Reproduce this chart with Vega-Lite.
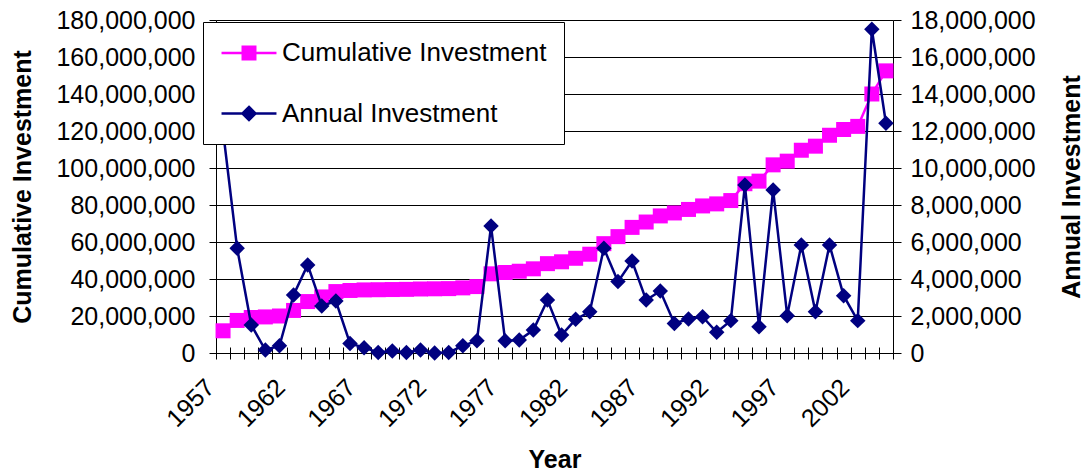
{
  "$schema": "https://vega.github.io/schema/vega-lite/v6.json",
  "width": 677,
  "height": 333,
  "autosize": "none",
  "padding": {"left": 216, "top": 20, "right": 193, "bottom": 119},
  "background": "white",
  "config": {
    "view": {"stroke": null},
    "font": "Liberation Sans",
    "axis": {
      "labelFont": "Liberation Sans",
      "titleFont": "Liberation Sans",
      "labelColor": "#000000",
      "titleColor": "#000000",
      "domainColor": "#000000",
      "tickColor": "#000000",
      "labelFontSize": 25,
      "titleFontSize": 25,
      "titleFontWeight": "bold"
    }
  },
  "data": {
    "values": [
      {"year": 1957, "cumulative": 12000000, "annual": 12000000},
      {"year": 1958, "cumulative": 17600000, "annual": 5660000},
      {"year": 1959, "cumulative": 19200000, "annual": 1510000},
      {"year": 1960, "cumulative": 19500000, "annual": 160000},
      {"year": 1961, "cumulative": 20000000, "annual": 390000},
      {"year": 1962, "cumulative": 23000000, "annual": 3140000},
      {"year": 1963, "cumulative": 27800000, "annual": 4760000},
      {"year": 1964, "cumulative": 30300000, "annual": 2540000},
      {"year": 1965, "cumulative": 33200000, "annual": 2810000},
      {"year": 1966, "cumulative": 33800000, "annual": 520000},
      {"year": 1967, "cumulative": 34100000, "annual": 290000},
      {"year": 1968, "cumulative": 34200000, "annual": 30000},
      {"year": 1969, "cumulative": 34300000, "annual": 110000},
      {"year": 1970, "cumulative": 34400000, "annual": 30000},
      {"year": 1971, "cumulative": 34600000, "annual": 160000},
      {"year": 1972, "cumulative": 34700000, "annual": 0},
      {"year": 1973, "cumulative": 34800000, "annual": 30000},
      {"year": 1974, "cumulative": 35200000, "annual": 390000},
      {"year": 1975, "cumulative": 35900000, "annual": 660000},
      {"year": 1976, "cumulative": 42800000, "annual": 6860000},
      {"year": 1977, "cumulative": 43500000, "annual": 660000},
      {"year": 1978, "cumulative": 44200000, "annual": 700000},
      {"year": 1979, "cumulative": 45500000, "annual": 1240000},
      {"year": 1980, "cumulative": 48300000, "annual": 2860000},
      {"year": 1981, "cumulative": 49300000, "annual": 970000},
      {"year": 1982, "cumulative": 51200000, "annual": 1820000},
      {"year": 1983, "cumulative": 53400000, "annual": 2230000},
      {"year": 1984, "cumulative": 59100000, "annual": 5660000},
      {"year": 1985, "cumulative": 62900000, "annual": 3860000},
      {"year": 1986, "cumulative": 67900000, "annual": 4970000},
      {"year": 1987, "cumulative": 70800000, "annual": 2860000},
      {"year": 1988, "cumulative": 74100000, "annual": 3350000},
      {"year": 1989, "cumulative": 75700000, "annual": 1600000},
      {"year": 1990, "cumulative": 77600000, "annual": 1840000},
      {"year": 1991, "cumulative": 79500000, "annual": 1960000},
      {"year": 1992, "cumulative": 80600000, "annual": 1120000},
      {"year": 1993, "cumulative": 82400000, "annual": 1750000},
      {"year": 1994, "cumulative": 91500000, "annual": 9080000},
      {"year": 1995, "cumulative": 92900000, "annual": 1420000},
      {"year": 1996, "cumulative": 101700000, "annual": 8810000},
      {"year": 1997, "cumulative": 103700000, "annual": 2020000},
      {"year": 1998, "cumulative": 109600000, "annual": 5840000},
      {"year": 1999, "cumulative": 111800000, "annual": 2230000},
      {"year": 2000, "cumulative": 117700000, "annual": 5840000},
      {"year": 2001, "cumulative": 120800000, "annual": 3100000},
      {"year": 2002, "cumulative": 122500000, "annual": 1750000},
      {"year": 2003, "cumulative": 140000000, "annual": 17500000},
      {"year": 2004, "cumulative": 152500000, "annual": 12420000}
    ]
  },
  "encoding": {
    "x": {
      "field": "year",
      "type": "quantitative",
      "scale": {"domain": [1956.5, 2004.5], "nice": false, "zero": false},
      "axis": {
        "values": [1956.5, 1957.5, 1958.5, 1959.5, 1960.5, 1961.5, 1962.5, 1963.5, 1964.5, 1965.5, 1966.5, 1967.5, 1968.5, 1969.5, 1970.5, 1971.5, 1972.5, 1973.5, 1974.5, 1975.5, 1976.5, 1977.5, 1978.5, 1979.5, 1980.5, 1981.5, 1982.5, 1983.5, 1984.5, 1985.5, 1986.5, 1987.5, 1988.5, 1989.5, 1990.5, 1991.5, 1992.5, 1993.5, 1994.5, 1995.5, 1996.5, 1997.5, 1998.5, 1999.5, 2000.5, 2001.5, 2002.5, 2003.5, 2004.5],
        "labelExpr": "(datum.value + 0.5 - 1957) % 5 == 0 ? '' + (datum.value + 0.5) : ''",
        "labelAngle": -45,
        "labelAlign": "right",
        "labelBaseline": "middle",
        "labelOffset": -6,
        "labelPadding": 24,
        "labelFlush": false,
        "labelOverlap": false,
        "labelBound": false,
        "tickSize": 12,
        "tickWidth": 1,
        "offset": -6,
        "domain": false,
        "grid": false,
        "title": "Year",
        "titleY": 112,
        "titleBaseline": "middle"
      }
    }
  },
  "layer": [
    {
      "mark": {
        "type": "line",
        "strokeWidth": 2.5,
        "point": {"filled": true, "shape": "square", "size": 225, "opacity": 1}
      },
      "encoding": {
        "y": {
          "field": "cumulative",
          "type": "quantitative",
          "scale": {"domain": [0, 180000000], "nice": false, "zero": true},
          "axis": {
            "orient": "left",
            "values": [0, 20000000, 40000000, 60000000, 80000000, 100000000, 120000000, 140000000, 160000000, 180000000],
            "format": ",d",
            "grid": true,
            "gridColor": "#000000",
            "gridWidth": 1,
            "tickSize": 7,
            "labelPadding": 14,
            "title": "Cumulative Investment",
            "titleAngle": 270,
            "titleX": -194,
            "titleBaseline": "middle"
          }
        },
        "color": {
          "datum": "Cumulative Investment",
          "scale": {"domain": ["Cumulative Investment", "Annual Investment"], "range": ["#ff00ff", "#000080"]},
          "legend": {
            "orient": "none",
            "legendX": -13,
            "legendY": 2,
            "title": null,
            "fillColor": "#ffffff",
            "strokeColor": "#000000",
            "padding": 17.5,
            "symbolSize": 576,
            "symbolStrokeWidth": 2.5,
            "symbolOffset": 15,
            "labelOffset": 19.5,
            "rowPadding": 33.5,
            "labelFont": "Liberation Sans",
            "labelFontSize": 26,
            "labelColor": "#000000",
            "labelLimit": 500,
            "encode": {
              "symbols": {
                "update": {
                  "shape": {"signal": "datum.value == 'Cumulative Investment' ? 'M-2.29,0H2.29M-0.52,-0.52H0.52V0.52H-0.52Z' : 'M-2.29,0H2.29M0,-0.55L0.55,0L0,0.55L-0.55,0Z'"},
                  "fill": {"signal": "datum.value == 'Cumulative Investment' ? '#ff00ff' : '#000080'"},
                  "stroke": {"signal": "datum.value == 'Cumulative Investment' ? '#ff00ff' : '#000080'"},
                  "strokeWidth": {"value": 2.5},
                  "opacity": {"value": 1}
                }
              }
            }
          }
        }
      }
    },
    {
      "mark": {
        "type": "line",
        "strokeWidth": 2.5,
        "point": {"filled": true, "shape": "diamond", "size": 240, "opacity": 1}
      },
      "encoding": {
        "y": {
          "field": "annual",
          "type": "quantitative",
          "scale": {"domain": [0, 18000000], "nice": false, "zero": true},
          "axis": {
            "orient": "right",
            "values": [0, 2000000, 4000000, 6000000, 8000000, 10000000, 12000000, 14000000, 16000000, 18000000],
            "format": ",d",
            "grid": false,
            "tickSize": 8,
            "labelPadding": 9,
            "title": "Annual Investment",
            "titleAngle": 270,
            "titleX": 178,
            "titleBaseline": "middle"
          }
        },
        "color": {"datum": "Annual Investment"}
      }
    }
  ],
  "resolve": {"scale": {"y": "independent"}}
}
